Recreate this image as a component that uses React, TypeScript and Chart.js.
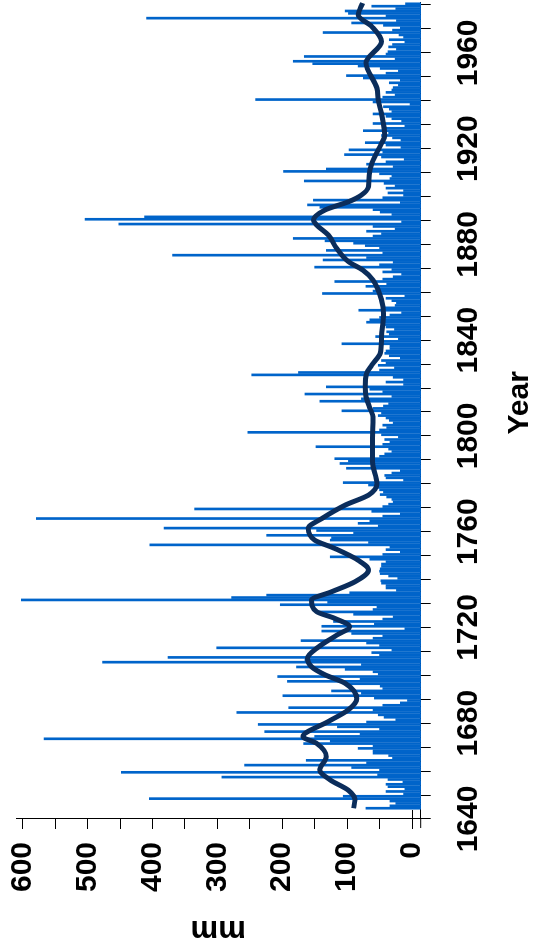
import React, { useEffect, useRef } from 'react';
import { Chart, registerables } from 'chart.js';

Chart.register(...registerables);

// Annual values (mm), one per year starting at FIRST_YEAR
const FIRST_YEAR = 1644;
const rainfallMm = [
  71, 34, 25, 34, 405, 106, // 1644-1649
  13, 40, 11, 37, 40, 14, 37, 293, 53, 448, // 1650s
  50, 93, 258, 70, 163, 30, 36, 60, 60, 83, // 1660s
  60, 167, 126, 567, 150, 80, 227, 50, 115, 237, // 1670s
  70, 25, 43, 52, 270, 60, 190, 45, 18, 7, // 1680s
  58, 199, 78, 124, 45, 49, 103, 192, 80, 207, // 1690s
  52, 60, 103, 178, 78, 477, 165, 376, 50, 62, // 1700s
  31, 301, 50, 70, 171, 60, 45, 93, 139, 11, // 1710s
  139, 58, 121, 45, 29, 90, 147, 60, 54, 203, // 1720s
  130, 602, 278, 224, 96, 24, 40, 40, 47, 48, // 1730s
  22, 36, 49, 50, 49, 47, 47, 40, 65, 126, // 1740s
  45, 18, 40, 34, 404, 67, 126, 124, 224, 90, // 1750s
  147, 382, 52, 83, 65, 579, 45, 18, 62, 335, // 1760s
  45, 36, 29, 31, 39, 49, 44, 50, 57, 67, // 1770s
  106, 13, 40, 42, 31, 18, 101, 60, 111, 98, // 1780s
  119, 50, 42, 31, 36, 148, 45, 34, 42, 21, // 1790s
  47, 253, 50, 39, 45, 29, 35, 40, 52, 47, // 1800s
  108, 60, 44, 36, 142, 78, 31, 165, 45, 65, // 1810s
  132, 13, 40, 13, 29, 247, 175, 50, 27, 52, // 1820s
  40, 47, 18, 35, 42, 40, 34, 34, 108, 45, // 1830s
  21, 56, 35, 39, 27, 40, 47, 70, 65, 50, // 1840s
  34, 16, 82, 45, 26, 24, 31, 40, 11, 138, // 1850s
  60, 54, 71, 39, 119, 45, 29, 16, 45, 31, // 1860s
  150, 50, 29, 137, 70, 369, 45, 132, 50, 72, // 1870s
  90, 134, 183, 60, 47, 70, 26, 60, 452, 16, // 1880s
  504, 412, 31, 49, 60, 142, 161, 18, 152, 45, // 1890s
  13, 37, 13, 40, 26, 43, 166, 34, 31, 50, // 1900s
  198, 132, 29, 70, 40, 12, 47, 104, 45, 97, // 1910s
  17, 40, 72, 17, 30, 47, 36, 75, 45, 11, // 1920s
  60, 16, 31, 40, 60, 31, 35, 44, 3, 60, // 1930s
  241, 45, 26, 40, 31, 29, 21, 35, 18, 75, // 1940s
  101, 40, 21, 49, 83, 153, 183, 26, 166, 40, // 1950s
  37, 24, 36, 30, 11, 35, 13, 20, 137, 30, // 1960s
  18, 44, 93, 24, 409, 40, 98, 103, 25, 62, // 1970s
  10, // 1980
];

// Smoothed curve
const smoothYears = [
  1644.5, 1648, 1652, 1656.3, 1660.5, 1666, 1671.6, 1674.4, 1680.7, 1685.6,
  1690.2, 1696.7, 1700.2, 1703.6, 1707.1, 1711.9, 1716.8, 1720.3, 1723.8, 1726.6,
  1731.4, 1734.9, 1739.1, 1744, 1748.1, 1753, 1756.5, 1761.4, 1765.5, 1771.1,
  1775.3, 1780.2, 1789.2, 1799, 1807.3, 1812.5, 1816.4, 1820.5, 1826.1, 1829.6,
  1834.5, 1841.4, 1851.2, 1856.8, 1865.1, 1869.3, 1872.8, 1878.3, 1883.9, 1888.1,
  1890.2, 1894.4, 1897.8, 1900.6, 1904.1, 1909, 1913.9, 1922.2, 1925.5, 1934.7,
  1940.3, 1945.2, 1955.9, 1964.7, 1971, 1975.8, 1980.8,
];
const smoothMm = [
  90, 88, 98, 126, 142, 132, 147, 168, 129, 98,
  85, 103, 134, 155, 161, 144, 116, 96, 119, 147,
  155, 124, 88, 67, 83, 119, 150, 160, 139, 103,
  67, 54, 61, 61, 60, 66, 71, 72, 70, 62,
  49, 47, 44, 47, 60, 76, 98, 116, 129, 147,
  152, 134, 98, 78, 67, 66, 62, 47, 42, 47,
  52, 54, 71, 47, 62, 83, 76,
];

const yearTicks = [1640, 1650, 1660, 1670, 1680, 1690, 1700, 1710, 1720, 1730, 1740, 1750, 1760, 1770, 1780, 1790, 1800, 1810, 1820, 1830, 1840, 1850, 1860, 1870, 1880, 1890, 1900, 1910, 1920, 1930, 1940, 1950, 1960, 1970, 1980];
const yearLabels = [1640, 1680, 1720, 1760, 1800, 1840, 1880, 1920, 1960];
const mmTicks = [0, 50, 100, 150, 200, 250, 300, 350, 400, 450, 500, 550, 600];
const mmLabels = [0, 100, 200, 300, 400, 500, 600];

const FONT = "'Liberation Sans', Arial, Helvetica, sans-serif";

const zeroPad = (s: any) => {
  s.paddingTop = 0;
  s.paddingBottom = 0;
  s.paddingLeft = 0;
  s.paddingRight = 0;
};

const extrasPlugin = {
  id: 'extras',
  afterDraw(chart: any) {
    const { ctx, chartArea, scales } = chart;
    ctx.save();
    // axis title for the year axis
    ctx.font = `bold 30px ${FONT}`;
    ctx.fillStyle = '#000';
    ctx.textAlign = 'center';
    ctx.textBaseline = 'alphabetic';
    ctx.fillText('Year', (chartArea.left + chartArea.right) / 2 + 8, 528);
    // zero tick crossing into the plot, and year axis line overshoot
    ctx.strokeStyle = '#000';
    ctx.lineWidth = 1;
    const y0 = Math.round(scales.y.getPixelForValue(0)) + 0.5;
    ctx.beginPath();
    ctx.moveTo(chartArea.left, y0);
    ctx.lineTo(chartArea.left + 9, y0);
    ctx.moveTo(chartArea.left - 9, chartArea.bottom);
    ctx.lineTo(chartArea.left, chartArea.bottom);
    ctx.stroke();
    ctx.restore();
  },
};

export default function App() {
  const ref = useRef<HTMLCanvasElement>(null);

  useEffect(() => {
    const canvas = ref.current;
    if (!canvas) return;
    const bars = rainfallMm.map((v, i) => ({ x: FIRST_YEAR + i + 0.5, y: v }));
    const smooth = smoothYears.map((x, i) => ({ x, y: smoothMm[i] }));

    const chart = new Chart(canvas, {
      type: 'bar',
      data: {
        datasets: [
          {
            type: 'line',
            data: smooth,
            borderColor: '#0B2D5B',
            borderWidth: 5,
            pointRadius: 0,
            cubicInterpolationMode: 'monotone',
            fill: false,
            order: 1,
            clip: false,
          } as any,
          {
            type: 'bar',
            data: bars,
            backgroundColor: '#0064CA',
            barThickness: 2,
            base: -13.4,
            borderWidth: 0,
            order: 2,
            clip: false,
          } as any,
        ],
      },
      options: {
        responsive: false,
        animation: false,
        devicePixelRatio: 1,
        layout: { padding: { top: 16, right: 2.6, bottom: 0, left: 0 } },
        plugins: { legend: { display: false }, tooltip: { enabled: false } },
        scales: {
          x: {
            type: 'linear',
            min: 1640,
            max: 1981,
            offset: false,
            afterBuildTicks: (s: any) => {
              s.ticks = yearTicks.map((v) => ({ value: v }));
            },
            afterFit: (s: any) => {
              s.height = 113.3;
              zeroPad(s);
            },
            grid: { display: true, drawOnChartArea: false, drawTicks: true, tickLength: 10, color: '#000', offset: false },
            border: { display: true, color: '#000', width: 1 },
            ticks: {
              autoSkip: false,
              maxRotation: 0,
              minRotation: 0,
              padding: 20,
              color: '#000',
              font: { family: FONT, size: 30, weight: 'bold' },
              callback: (v: any) => (yearLabels.includes(Number(v)) ? String(v) : ''),
            },
            title: { display: false },
          },
          y: {
            type: 'linear',
            min: -13.4,
            max: 610.3,
            afterBuildTicks: (s: any) => {
              s.ticks = mmTicks.map((v) => ({ value: v }));
            },
            afterFit: (s: any) => {
              s.width = 129;
              zeroPad(s);
            },
            grid: { display: true, drawOnChartArea: false, drawTicks: true, tickLength: 10, color: '#000' },
            border: { display: true, color: '#000', width: 1 },
            ticks: {
              autoSkip: false,
              padding: 13,
              color: '#000',
              font: { family: FONT, size: 30, weight: 'bold' },
              callback: (v: any) => (mmLabels.includes(Number(v)) ? String(v) : ''),
            },
            title: {
              display: true,
              text: 'mm',
              color: '#000',
              font: { family: FONT, size: 31, weight: 'bold' },
              padding: 0,
            },
          },
        },
      } as any,
      plugins: [extrasPlugin],
    });
    return () => chart.destroy();
  }, []);

  return (
    <div style={{ position: 'fixed', left: 0, top: 0, width: 534, height: 948, overflow: 'hidden', background: '#fff' }}>
      <canvas
        ref={ref}
        width={948}
        height={534}
        style={{
          position: 'absolute',
          left: 0,
          top: 0,
          width: 948,
          height: 534,
          transformOrigin: '0 0',
          transform: 'translateY(948px) rotate(-90deg)',
        }}
      />
    </div>
  );
}
